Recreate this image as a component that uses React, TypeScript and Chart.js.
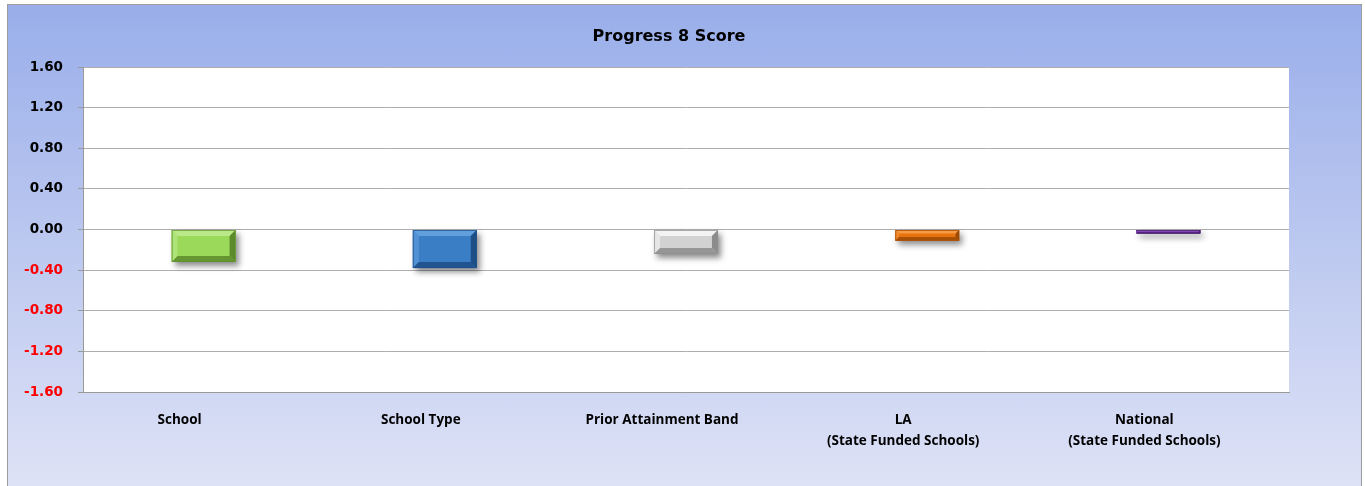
import React, { useEffect, useRef } from 'react';
import { Chart, registerables } from 'chart.js';

Chart.register(...registerables);

const chartTitle = 'Progress 8 Score';
const categories: string[][] = [
  ['School'],
  ['School Type'],
  ['Prior Attainment Band'],
  ['LA', '(State Funded Schools)'],
  ['National', '(State Funded Schools)'],
];
const scores = [-0.32, -0.38, -0.24, -0.11, -0.04];
const faceColors = ['#9bd95b', '#3a7ec5', '#d2d2d2', '#e8720c', '#7a3db0'];
const lightColors = ['#bbe98a', '#629fdd', '#f3f3f3', '#f79a45', '#9a62c8'];
const darkColors = ['#5d8a2c', '#1e4e86', '#8c8c8c', '#9c4a05', '#3e1a60'];
const yMin = -1.6;
const yMax = 1.6;
const yStep = 0.4;

const W = 1353;
const H = 481;

const bgPlugin = {
  id: 'plotBg',
  beforeDraw(chart: any) {
    const { ctx, chartArea } = chart;
    ctx.save();
    ctx.fillStyle = '#ffffff';
    ctx.fillRect(chartArea.left, chartArea.top, chartArea.right - chartArea.left, chartArea.bottom - chartArea.top);
    ctx.restore();
  },
};

function barRect(el: any) {
  const p = el.getProps(['x', 'y', 'base', 'width'], true);
  const left = p.x - p.width / 2;
  const right = p.x + p.width / 2;
  const top = Math.min(p.y, p.base);
  const bottom = Math.max(p.y, p.base);
  return { left, right, top, bottom };
}

const bevelPlugin = {
  id: 'bevel',
  beforeDatasetsDraw(chart: any) {
    const { ctx } = chart;
    const meta = chart.getDatasetMeta(0);
    ctx.save();
    meta.data.forEach((el: any, i: number) => {
      const r = barRect(el);
      ctx.shadowColor = 'rgba(0,0,0,0.45)';
      ctx.shadowBlur = 6;
      ctx.shadowOffsetX = 3;
      ctx.shadowOffsetY = 4;
      ctx.fillStyle = faceColors[i];
      ctx.fillRect(r.left, r.top, r.right - r.left, r.bottom - r.top);
    });
    ctx.restore();
  },
  afterDatasetsDraw(chart: any) {
    const { ctx } = chart;
    const meta = chart.getDatasetMeta(0);
    ctx.save();
    meta.data.forEach((el: any, i: number) => {
      const { left, right, top, bottom } = barRect(el);
      const h = bottom - top;
      const b = Math.max(1, Math.min(6, h / 3));
      const poly = (pts: number[][], color: string) => {
        ctx.beginPath();
        ctx.moveTo(pts[0][0], pts[0][1]);
        for (let k = 1; k < pts.length; k++) ctx.lineTo(pts[k][0], pts[k][1]);
        ctx.closePath();
        ctx.fillStyle = color;
        ctx.fill();
      };
      poly([[left, top], [right, top], [right - b, top + b], [left + b, top + b]], lightColors[i]);
      ctx.globalAlpha = 0.6;
      poly([[left, top], [left + b, top + b], [left + b, bottom - b], [left, bottom]], lightColors[i]);
      ctx.globalAlpha = 0.85;
      poly([[left, bottom], [left + b, bottom - b], [right - b, bottom - b], [right, bottom]], darkColors[i]);
      ctx.globalAlpha = 1;
      poly([[right, top], [right, bottom], [right - b, bottom - b], [right - b, top + b]], darkColors[i]);
      ctx.strokeStyle = darkColors[i];
      ctx.globalAlpha = 0.7;
      ctx.lineWidth = 1;
      ctx.strokeRect(left + 0.5, top + 0.5, right - left - 1, bottom - top - 1);
      ctx.globalAlpha = 1;
    });
    ctx.restore();
  },
};

const titlePlugin = {
  id: 'customTitle',
  afterDraw(chart: any) {
    const { ctx } = chart;
    ctx.save();
    ctx.font = 'bold 16px "DejaVu Sans"';
    ctx.fillStyle = '#000000';
    ctx.textAlign = 'center';
    ctx.textBaseline = 'middle';
    ctx.fillText(chartTitle, 661, 32);
    ctx.restore();
  },
};

export default function App() {
  const ref = useRef<HTMLCanvasElement>(null);

  useEffect(() => {
    if (!ref.current) return;
    const chart = new Chart(ref.current, {
      type: 'bar',
      data: {
        labels: categories,
        datasets: [
          {
            data: scores,
            backgroundColor: faceColors,
            borderWidth: 0,
            barPercentage: 0.265,
            categoryPercentage: 1,
          },
        ],
      },
      options: {
        responsive: false,
        animation: false,
        devicePixelRatio: 1,
        layout: { padding: { top: 62, right: 72, bottom: 0, left: 0 } },
        plugins: {
          legend: { display: false },
          title: { display: false },
          tooltip: { enabled: false },
        },
        scales: {
          x: {
            grid: { display: false, drawTicks: false, tickLength: 0 },
            border: { display: true, color: '#9a9a9a', width: 1 },
            ticks: {
              color: '#000000',
              padding: 18,
              labelOffset: -24,
              maxRotation: 0,
              autoSkip: false,
              font: { family: '"Open Sans"', weight: 'bold', size: 13.5, lineHeight: 1.55 },
            },
            afterFit(scale: any) {
              scale.height = 94;
            },
          },
          y: {
            min: yMin,
            max: yMax,
            grid: { color: '#adadad', lineWidth: 1, tickLength: 5, tickColor: '#9a9a9a' },
            border: { display: true, color: '#9a9a9a', width: 1 },
            ticks: {
              stepSize: yStep,
              padding: 15,
              font: { family: '"DejaVu Sans"', weight: 'bold', size: 13.5 },
              color: (c: any) => (c.tick && c.tick.value < -1e-9 ? '#ff0000' : '#000000'),
              callback: (v: any) => {
                const n = Math.abs(Number(v)) < 1e-9 ? 0 : Number(v);
                return n.toFixed(2);
              },
            },
            afterFit(scale: any) {
              scale.width = 75;
            },
          },
        },
      },
      plugins: [bgPlugin, bevelPlugin, titlePlugin],
    });
    return () => chart.destroy();
  }, []);

  return (
    <div
      style={{
        position: 'absolute',
        left: 7,
        top: 4,
        width: W,
        height: 490,
        border: '1px solid #9c9c9c',
        background: 'linear-gradient(to bottom, #99aeea 0%, #b9c6ef 45%, #dfe3f6 100%)',
        overflow: 'hidden',
      }}
    >
      <canvas ref={ref} width={W} height={H} style={{ display: 'block', width: W, height: H }} />
    </div>
  );
}
